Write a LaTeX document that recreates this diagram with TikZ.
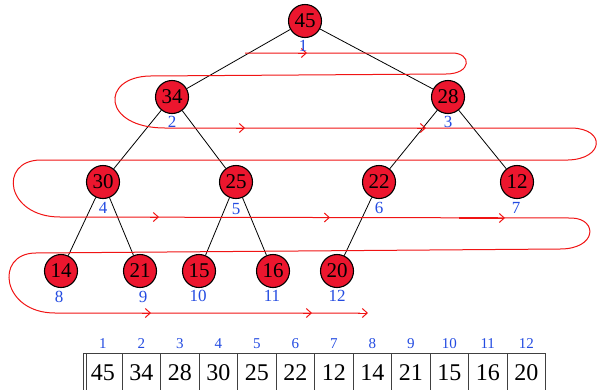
\documentclass[tikz,border=0pt]{standalone}
\usepackage{fontspec}
\setmainfont{Liberation Serif}
\usetikzlibrary{arrows.meta}
\definecolor{nodered}{RGB}{236,22,46}
\definecolor{idxblue}{RGB}{35,75,225}
\definecolor{pathred}{RGB}{240,20,20}
\tikzset{
  heapnode/.style={circle,draw=black,line width=1.1pt,fill=nodered,minimum size=33pt,inner sep=0pt,font=\fontsize{21}{21}\selectfont},
  idx/.style={text=idxblue,font=\fontsize{17}{17}\selectfont,inner sep=0pt},
  tidx/.style={text=idxblue,font=\fontsize{15}{15}\selectfont,inner sep=0pt},
  tval/.style={font=\fontsize{24}{24}\selectfont,inner sep=0pt},
  edge/.style={draw=black,line width=0.8pt},
  snake/.style={draw=pathred,line width=1pt},
  tip/.style={draw=pathred,line width=1pt,-{Straight Barb[length=5pt,width=9pt]}},
  cell/.style={draw=black!75,line width=0.8pt}
}
\begin{document}
\begin{tikzpicture}[x=1pt,y=-1pt]
\useasboundingbox (0,0) rectangle (599,389);
\clip (0,0) rectangle (599,389);

% tree nodes
\node[heapnode] (n1) at (305,21) {45};
\node[heapnode] (n2) at (172,97) {34};
\node[heapnode] (n3) at (448,97) {28};
\node[heapnode] (n4) at (103,182) {30};
\node[heapnode] (n5) at (236,182) {25};
\node[heapnode] (n6) at (379,182) {22};
\node[heapnode] (n7) at (517,182) {12};
\node[heapnode] (n8) at (61,271) {14};
\node[heapnode] (n9) at (140,271) {21};
\node[heapnode] (n10) at (199,271) {15};
\node[heapnode] (n11) at (273,271) {16};
\node[heapnode] (n12) at (337,271) {20};

% tree edges
\draw[edge] (n1) -- (n2);
\draw[edge] (n1) -- (n3);
\draw[edge] (n2) -- (n4);
\draw[edge] (n2) -- (n5);
\draw[edge] (n3) -- (n6);
\draw[edge] (n3) -- (n7);
\draw[edge] (n4) -- (n8);
\draw[edge] (n4) -- (n9);
\draw[edge] (n5) -- (n10);
\draw[edge] (n5) -- (n11);
\draw[edge] (n6) -- (n12);

% level-order traversal path
\draw[snake] (245,53) -- (452,53)
  .. controls (472,53) and (472,74) .. (446,74)
  -- (150,76)
  .. controls (100,77) and (102,128) .. (165,128)
  -- (572,128)
  .. controls (606,129) and (604,159) .. (568,160)
  -- (40,160)
  .. controls (-2,161) and (6,217) .. (60,217)
  -- (572,218)
  .. controls (598,219) and (597,249) .. (560,249)
  -- (35,253)
  .. controls (-6,254) and (2,313) .. (55,313)
  -- (360,313);
\draw[snake,line width=1.8pt] (459,218) -- (498,218);
\draw[tip] (298,53) -- (307,53);
\draw[tip] (236,128) -- (245,128);
\draw[tip] (417,128) -- (426,128);
\draw[tip] (150,217) -- (159,217);
\draw[tip] (321,217.5) -- (330,217.5);
\draw[tip] (496,218) -- (505,218);
\draw[tip] (142,313) -- (151,313);
\draw[tip] (303,313) -- (312,313);
\draw[tip] (358,313) -- (368,313);

% node indices
\node[idx] (i1) at (303,46) {1};
\node[idx] (i2) at (172,122) {2};
\node[idx] (i3) at (448,122) {3};
\node[idx] (i4) at (103,208) {4};
\node[idx] (i5) at (236,209) {5};
\node[idx] (i6) at (379,208) {6};
\node[idx] (i7) at (516,208) {7};
\node[idx] (i8) at (59,297) {8};
\node[idx] (i9) at (143,297) {9};
\node[idx] (i10) at (198,296) {10};
\node[idx] (i11) at (272,296) {11};
\node[idx] (i12) at (337,296) {12};

% array table
\foreach \v [count=\k] in {45,34,28,30,25,22,12,14,21,15,16,20} {
  \pgfmathsetmacro{\xa}{83.5+38.5*(\k-1)}
  \draw[cell] (\xa,353) rectangle ++(38.5,50);
  \node[tval] (t\k) at (\xa+19.25,373) {\v};
  \node[tidx] (ti\k) at (\xa+19.25,344) {\k};
}
\draw[cell] (86,353) -- (86,395);
\end{tikzpicture}
\end{document}
